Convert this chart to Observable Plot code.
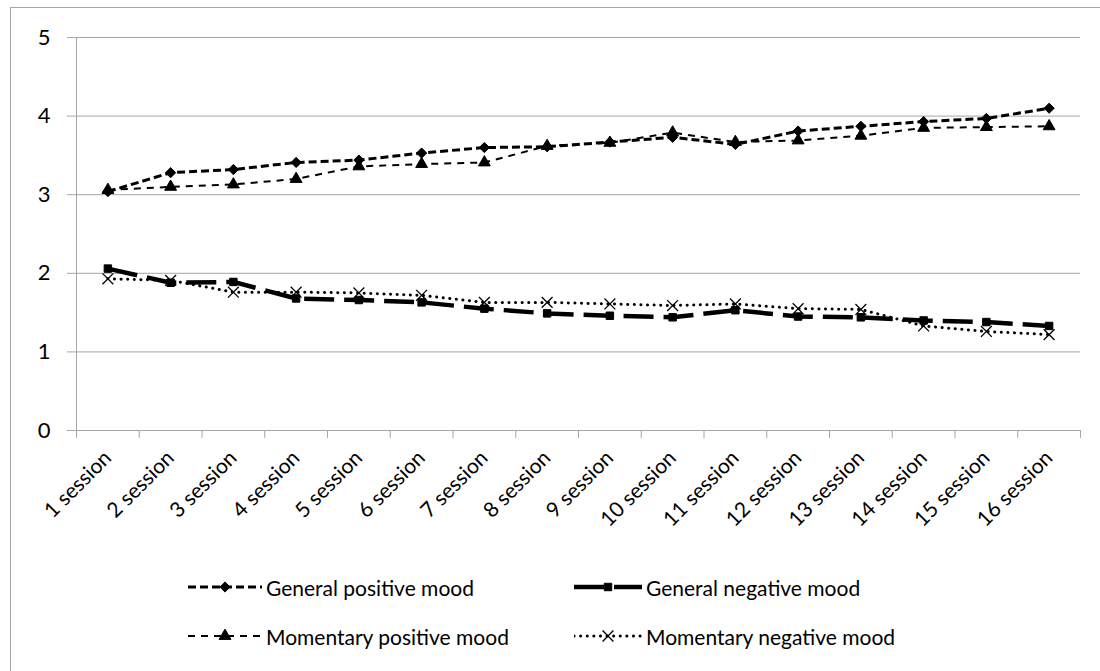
<!DOCTYPE html>
<html><head><meta charset="utf-8">
<script src="https://cdn.jsdelivr.net/npm/d3@7"></script>
<script src="https://cdn.jsdelivr.net/npm/@observablehq/plot@0.6"></script>
<style>
body{margin:0;background:#fff;overflow:hidden;font-family:Lato,"Liberation Sans",sans-serif;}
#wrap{position:relative;width:1100px;height:671px;overflow:hidden;background:#fff;}
#frame{position:absolute;left:10px;top:7px;width:1200px;height:800px;border:1px solid #a6a6a6;}
#chart{position:absolute;left:0;top:0;}
#legend{position:absolute;left:0;top:560px;width:1100px;height:111px;}
.item{position:absolute;height:30px;display:flex;align-items:center;font-size:21px;color:#000;white-space:nowrap;}
.item svg{margin-right:4px;}
</style></head><body>
<div id="wrap"><div id="frame"></div><div id="chart"></div><div id="legend"></div></div>
<script>
const sessions = ["1 session","2 session","3 session","4 session","5 session","6 session","7 session","8 session","9 session","10 session","11 session","12 session","13 session","14 session","15 session","16 session"];
const generalPositive   = [3.04,3.28,3.32,3.41,3.44,3.53,3.60,3.61,3.67,3.73,3.64,3.81,3.87,3.93,3.97,4.10];
const momentaryPositive = [3.06,3.10,3.13,3.20,3.36,3.39,3.41,3.62,3.66,3.79,3.67,3.69,3.75,3.85,3.86,3.87];
const generalNegative   = [2.06,1.88,1.89,1.68,1.66,1.63,1.55,1.49,1.46,1.44,1.53,1.45,1.44,1.40,1.38,1.33];
const momentaryNegative = [1.93,1.91,1.76,1.76,1.75,1.72,1.63,1.63,1.61,1.59,1.61,1.55,1.54,1.33,1.26,1.22];
const yTicks = [0,1,2,3,4,5];

const series = [
  {name:"General positive mood",   values:generalPositive,   symbol:"diamond2", dash:"8,4",  width:3,   r:4.6, leg:{col:0,row:0}},
  {name:"General negative mood",   values:generalNegative,   symbol:"square",   dash:"30,10", width:4.5, r:4.2, leg:{col:1,row:0}},
  {name:"Momentary positive mood", values:momentaryPositive, symbol:"triangle", dash:"7,6",  width:2,   r:4.4, leg:{col:0,row:1}},
  {name:"Momentary negative mood", values:momentaryNegative, symbol:"times",    dash:"0.1,6.5", width:3, r:5, leg:{col:1,row:1}}
];
const gray = "#a6a6a6";
const idx = sessions.map((d,i)=>i+1);
const bounds = [0.5, ...idx.map(i=>i+0.5)];

const marks = [
  Plot.gridY(yTicks, {stroke:gray, strokeOpacity:1, strokeWidth:1}),
  Plot.ruleX([0.5], {stroke:gray, strokeWidth:1}),
  Plot.axisY({ticks:yTicks, tickSize:9, tickPadding:17, stroke:gray, fill:"#000", fontSize:22, label:null, tickFormat:d=>String(d)}),
  Plot.axisX({ticks:bounds, tickSize:8, tickFormat:()=>"", stroke:gray, label:null}),
  Plot.axisX({ticks:idx, tickSize:0, tickPadding:24, tickRotate:-45, tickFormat:i=>sessions[i-1], fill:"#000", fontSize:21, label:null})
];
for (const s of series) {
  const rows = s.values.map((v,i)=>({x:i+1, y:v}));
  marks.push(Plot.line(rows, {x:"x", y:"y", stroke:"#000", strokeWidth:s.width, strokeDasharray:s.dash, strokeLinecap: s.symbol==="times" ? "round" : "butt"}));
}
for (const s of series) {
  const rows = s.values.map((v,i)=>({x:i+1, y:v}));
  if (s.symbol === "times")
    marks.push(Plot.dot(rows, {x:"x", y:"y", symbol:"times", r:s.r, stroke:"#000", strokeWidth:1.3}));
  else
    marks.push(Plot.dot(rows, {x:"x", y:"y", symbol:s.symbol, r:s.r, fill:"#000", stroke:"#000", strokeWidth:1}));
}

const chart = Plot.plot({
  width:1100, height:560,
  marginLeft:76, marginRight:20, marginTop:37, marginBottom:130,
  style:{fontFamily:"Lato, 'Liberation Sans', sans-serif", fontSize:"21px", background:"transparent", overflow:"visible"},
  x:{type:"linear", domain:[0.5,16.5]},
  y:{domain:[0,5]},
  marks
});
document.getElementById("chart").appendChild(chart);

// legend
const legend = document.getElementById("legend");
const colX = [188, 574];
const rowY = [27, 76];
for (const s of series) {
  const div = document.createElement("div");
  div.className = "item";
  div.style.left = colX[s.leg.col] + "px";
  div.style.top = (rowY[s.leg.row] - 15) + "px";
  const w = s.leg.col === 0 ? 74 : 68;
  const svg = d3.create("svg").attr("width", w).attr("height", 30);
  svg.append("line").attr("x1",0).attr("x2",w).attr("y1",15).attr("y2",15)
    .attr("stroke","#000").attr("stroke-width",s.width).attr("stroke-dasharray",s.dash)
    .attr("stroke-linecap", s.symbol==="times" ? "round" : "butt");
  const symMap = {diamond2:d3.symbolDiamond2, square:d3.symbolSquare, triangle:d3.symbolTriangle, times:d3.symbolTimes};
  const p = svg.append("path").attr("transform",`translate(${w/2},15)`)
    .attr("d", d3.symbol(symMap[s.symbol], Math.PI*s.r*s.r)());
  if (s.symbol === "times") p.attr("fill","none").attr("stroke","#000").attr("stroke-width",1.3);
  else p.attr("fill","#000").attr("stroke","#000");
  div.appendChild(svg.node());
  const span = document.createElement("span");
  span.textContent = s.name;
  div.appendChild(span);
  legend.appendChild(div);
}
</script>
</body></html>
